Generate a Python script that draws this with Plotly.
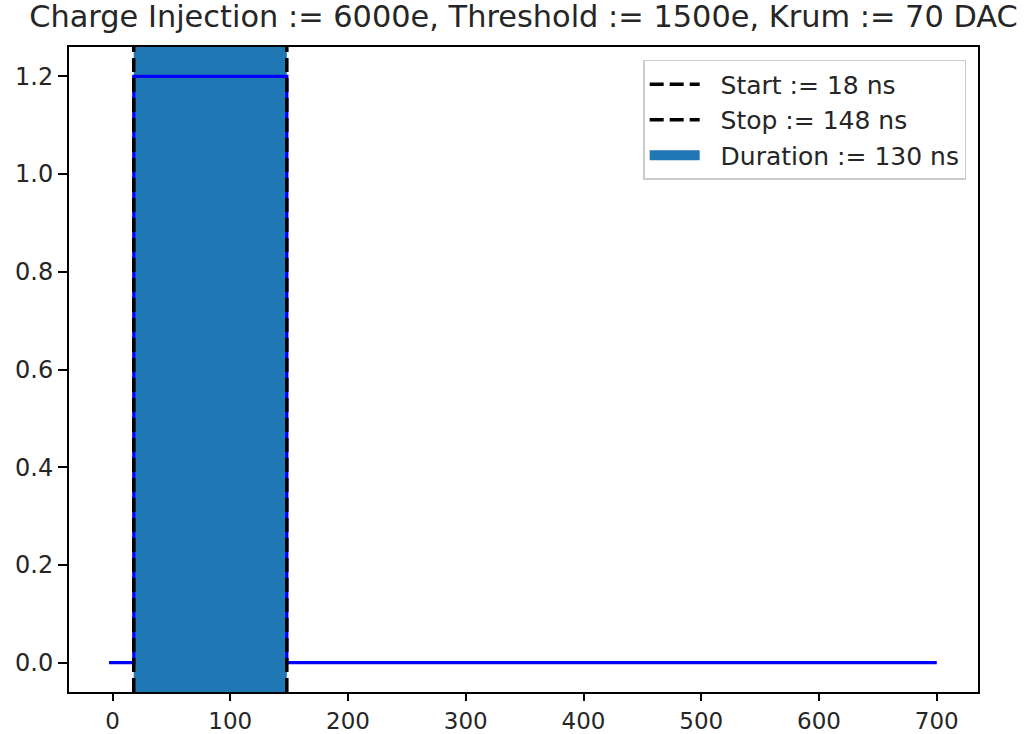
import plotly.graph_objects as go

# Data
signal_x = [-3, 18, 18, 148, 148, 700]
signal_y = [0, 0, 1.2, 1.2, 0, 0]
start_ns = 18
stop_ns = 148
duration_ns = stop_ns - start_ns
title_text = "Charge Injection := 6000e, Threshold := 1500e, Krum := 70 DAC"
x_ticks = [0, 100, 200, 300, 400, 500, 600, 700]
y_ticks = [0.0, 0.2, 0.4, 0.6, 0.8, 1.0, 1.2]

y_range = [-0.06, 1.26]
x_range = [-37, 735]

NB = "\u00a0\u00a0"  # small gap between legend handle and label

fig = go.Figure()

# Span (axvspan)
fig.add_trace(go.Scatter(
    x=[start_ns, stop_ns, stop_ns, start_ns, start_ns],
    y=[y_range[0], y_range[0], y_range[1], y_range[1], y_range[0]],
    fill="toself", fillcolor="#1f77b4", mode="none",
    showlegend=False, hoverinfo="skip",
))
# Legend-only entry for the span
fig.add_trace(go.Scatter(
    x=[None], y=[None], mode="lines",
    line=dict(color="#1f77b4", width=16),
    name=NB + f"Duration := {duration_ns} ns", legendrank=3,
))

# Signal line
fig.add_trace(go.Scatter(
    x=signal_x, y=signal_y, mode="lines",
    line=dict(color="blue", width=3.2), showlegend=False,
))

# Start / Stop dashed lines
fig.add_trace(go.Scatter(
    x=[start_ns, start_ns], y=y_range, mode="lines",
    line=dict(color="black", width=3.5, dash="14px,6px"),
    name=NB + f"Start := {start_ns} ns", legendrank=1,
))
fig.add_trace(go.Scatter(
    x=[stop_ns, stop_ns], y=y_range, mode="lines",
    line=dict(color="black", width=3.5, dash="14px,6px"),
    name=NB + f"Stop := {stop_ns} ns", legendrank=2,
))

font_family = "DejaVu Sans"
fig.update_layout(
    width=1026, height=734,
    margin=dict(l=69, r=48, t=47, b=42),
    plot_bgcolor="white", paper_bgcolor="white",
    font=dict(family=font_family, size=24, color="#262626"),
    title=dict(text=title_text, x=0.5, xanchor="center", xref="paper",
               y=1 - 27 / 734, yanchor="bottom",
               font=dict(size=30.4, color="#262626", family=font_family)),
    showlegend=True,
    legend=dict(x=0.987, xanchor="right", y=0.98, yanchor="top",
                bgcolor="rgba(255,255,255,0.8)", bordercolor="#cccccc", borderwidth=1.5,
                font=dict(size=25, family=font_family), tracegroupgap=0,
                itemwidth=50),
    xaxis=dict(range=x_range, tickvals=x_ticks, ticks="outside", ticklen=7,
               tickwidth=2, tickcolor="black", showgrid=False, zeroline=False,
               showline=True, linecolor="black", linewidth=2, mirror=True,
               tickfont=dict(size=23), automargin=False),
    yaxis=dict(range=y_range, tickvals=y_ticks, ticktext=[f"{v:.1f}" for v in y_ticks],
               ticks="outside", ticklen=9, tickwidth=2, tickcolor="black", showgrid=False,
               zeroline=False, showline=True, linecolor="black", linewidth=2,
               mirror=True, tickfont=dict(size=24), automargin=False),
)

fig.write_html("out.html")
